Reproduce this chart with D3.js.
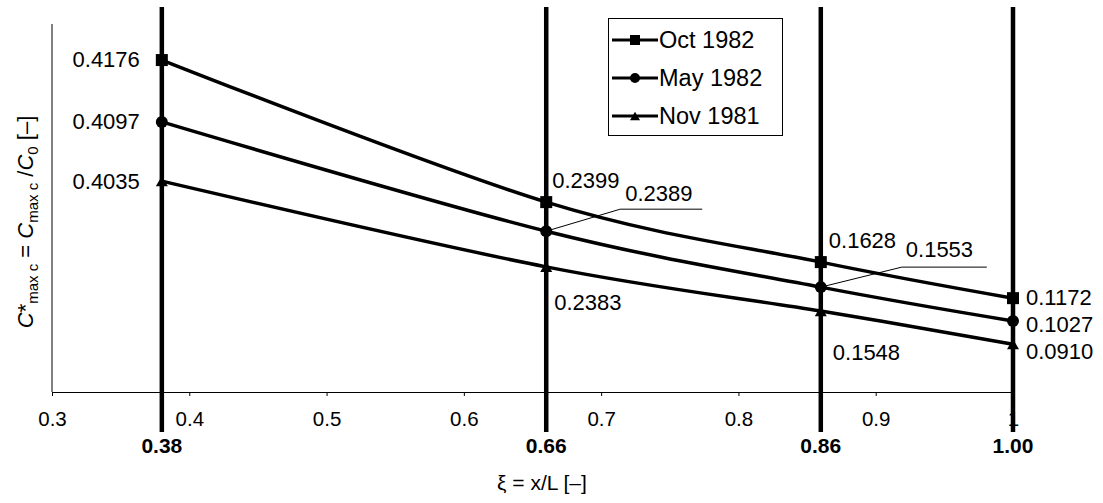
<!DOCTYPE html>
<html>
<head>
<meta charset="utf-8">
<script src="https://cdn.jsdelivr.net/npm/d3@7"></script>
<style>
  html, body { margin: 0; padding: 0; background: #fff; }
  svg { display: block; font-family: "Liberation Sans", Arial, sans-serif; }
</style>
</head>
<body>
<svg id="chart" width="1103" height="503"></svg>
<script>
// ---------------- DATA ----------------
const stations = [0.38, 0.66, 0.86, 1.00];          // measurement sections ξ
const stationLabels = ["0.38", "0.66", "0.86", "1.00"];
const xTicks = [0.3, 0.4, 0.5, 0.6, 0.7, 0.8, 0.9, 1.0];
const xTickLabels = ["0.3", "0.4", "0.5", "0.6", "0.7", "0.8", "0.9", "1"];
const seriesNames = ["Oct 1982", "May 1982", "Nov 1981"];
// annotated values C*maxc
const oct1982 = [0.4176, 0.2399, 0.1628, 0.1172];
const may1982 = [0.4097, 0.2389, 0.1553, 0.1027];
const nov1981 = [0.4035, 0.2383, 0.1548, 0.0910];
// plotted (schematic) heights on the unlabeled y axis (0..1)
const oct1982Plot = [0.902, 0.516, 0.353, 0.255];
const may1982Plot = [0.734, 0.437, 0.285, 0.193];
const nov1981Plot = [0.573, 0.340, 0.220, 0.130];

// ---------------- LAYOUT ----------------
const svg = d3.select("#chart");
const FONT = '"Liberation Sans", Arial, sans-serif';
const x = d3.scaleLinear().domain([0.3, 1.0]).range([52, 1013]);
const y = d3.scaleLinear().domain([0, 1]).range([392, 24]);

const series = [
  { name: seriesNames[0], plot: oct1982Plot, vals: oct1982, marker: "square" },
  { name: seriesNames[1], plot: may1982Plot, vals: may1982, marker: "circle" },
  { name: seriesNames[2], plot: nov1981Plot, vals: nov1981, marker: "triangle" }
];

// label placement (dx, dy from marker, anchor), per series per station
const labelPlacement = [
  [{dx:-22,dy:7,a:"end"},{dx:6,dy:-14,a:"start"},{dx:8,dy:-14,a:"start"},{dx:13,dy:7,a:"start"}],
  [{dx:-22,dy:7,a:"end"},{leader:[74,-22,156],dx:79,dy:-30,a:"start"},{leader:[81,-20,166],dx:85,dy:-30,a:"start"},{dx:13,dy:11,a:"start"}],
  [{dx:-22,dy:8,a:"end"},{dx:8,dy:43,a:"start"},{dx:12,dy:49,a:"start"},{dx:13,dy:15,a:"start"}]
];

// ---------------- AXES ----------------
// y axis line (no ticks)
svg.append("line")
  .attr("x1", x(0.3)).attr("x2", x(0.3))
  .attr("y1", y(1)).attr("y2", y(0))
  .attr("stroke", "#000").attr("stroke-width", 1);

const xAxis = d3.axisBottom(x)
  .tickValues(xTicks)
  .tickFormat((d, i) => xTickLabels[i])
  .tickSize(4)
  .tickSizeOuter(0)
  .tickPadding(15);
const gx = svg.append("g").attr("transform", `translate(0,${y(0)})`).call(xAxis);
gx.selectAll("text").attr("font-size", 20.5).attr("font-family", FONT).attr("fill", "#000");
gx.selectAll("line").attr("stroke", "#000");
gx.select(".domain").attr("stroke", "#000");

// thick vertical section lines
svg.append("g").selectAll("line").data(stations).join("line")
  .attr("x1", d => x(d)).attr("x2", d => x(d))
  .attr("y1", 7).attr("y2", 432)
  .attr("stroke", "#000").attr("stroke-width", 4.5);

// bold station labels
svg.append("g").selectAll("text").data(stations).join("text")
  .attr("x", d => x(d)).attr("y", 453)
  .attr("text-anchor", "middle")
  .attr("font-size", 21).attr("font-weight", "bold").attr("font-family", FONT)
  .text((d, i) => stationLabels[i]);

// x axis title
svg.append("text")
  .attr("x", 542).attr("y", 490)
  .attr("text-anchor", "middle")
  .attr("font-size", 21).attr("font-family", FONT)
  .text("ξ = x/L [–]");

// y axis title
const yt = svg.append("text")
  .attr("transform", "translate(33,222) rotate(-90)")
  .attr("text-anchor", "middle")
  .attr("font-size", 22).attr("font-family", FONT);
yt.append("tspan").attr("font-style", "italic").text("C");
yt.append("tspan").text("*");
yt.append("tspan").attr("font-size", 15).attr("dy", 5).text("max c");
yt.append("tspan").attr("dy", -5).text(" = ");
yt.append("tspan").attr("font-style", "italic").text("C");
yt.append("tspan").attr("font-size", 15).attr("dy", 5).text("max c");
yt.append("tspan").attr("dy", -5).text(" /");
yt.append("tspan").attr("font-style", "italic").text("C");
yt.append("tspan").attr("font-size", 15).attr("dy", 5).text("0");
yt.append("tspan").attr("dy", -5).text(" [–]");

// ---------------- SERIES ----------------
const line = d3.line()
  .x((d, i) => x(stations[i]))
  .y(d => y(d))
  .curve(d3.curveCardinal.tension(0));

function drawMarker(g, type, cx, cy, s) {
  if (type === "square") {
    g.append("rect").attr("x", cx - s / 2).attr("y", cy - s / 2)
      .attr("width", s).attr("height", s).attr("fill", "#000");
  } else if (type === "circle") {
    g.append("circle").attr("cx", cx).attr("cy", cy).attr("r", s / 2).attr("fill", "#000");
  } else {
    const h = s * 0.85;
    g.append("path")
      .attr("d", `M${cx},${cy - h / 2}L${cx + s / 2},${cy + h / 2}L${cx - s / 2},${cy + h / 2}Z`)
      .attr("fill", "#000");
  }
}

const gs = svg.append("g");
series.forEach((s, si) => {
  gs.append("path").datum(s.plot)
    .attr("d", line)
    .attr("fill", "none").attr("stroke", "#000").attr("stroke-width", 3.5);
  s.plot.forEach((v, i) => drawMarker(gs, s.marker, x(stations[i]), y(v), 12));
});

// value labels
const gl = svg.append("g");
series.forEach((s, si) => {
  s.vals.forEach((v, i) => {
    const p = labelPlacement[si][i];
    const mx = x(stations[i]), my = y(s.plot[i]);
    if (p.leader) {
      const [lx, ly, lend] = p.leader;
      gl.append("path")
        .attr("d", `M${mx},${my}L${mx + lx},${my + ly}L${mx + lend},${my + ly}`)
        .attr("fill", "none").attr("stroke", "#000").attr("stroke-width", 1);
    }
    gl.append("text")
      .attr("x", mx + p.dx).attr("y", my + p.dy)
      .attr("text-anchor", p.a)
      .attr("font-size", 22).attr("font-family", FONT)
      .text(v.toFixed(4));
  });
});

// ---------------- LEGEND ----------------
const lg = svg.append("g");
lg.append("rect").attr("x", 608.5).attr("y", 18.5).attr("width", 174).attr("height", 117)
  .attr("fill", "#fff").attr("stroke", "#000").attr("stroke-width", 1);
const legendRows = [40, 78, 116];
series.forEach((s, i) => {
  const ry = legendRows[i];
  lg.append("line").attr("x1", 612).attr("x2", 658).attr("y1", ry).attr("y2", ry)
    .attr("stroke", "#000").attr("stroke-width", 3);
  drawMarker(lg, s.marker, 635, ry, 10);
  lg.append("text").attr("x", 659).attr("y", ry + 8)
    .attr("font-size", 23.5).attr("font-family", FONT)
    .text(s.name);
});
</script>
</body>
</html>
